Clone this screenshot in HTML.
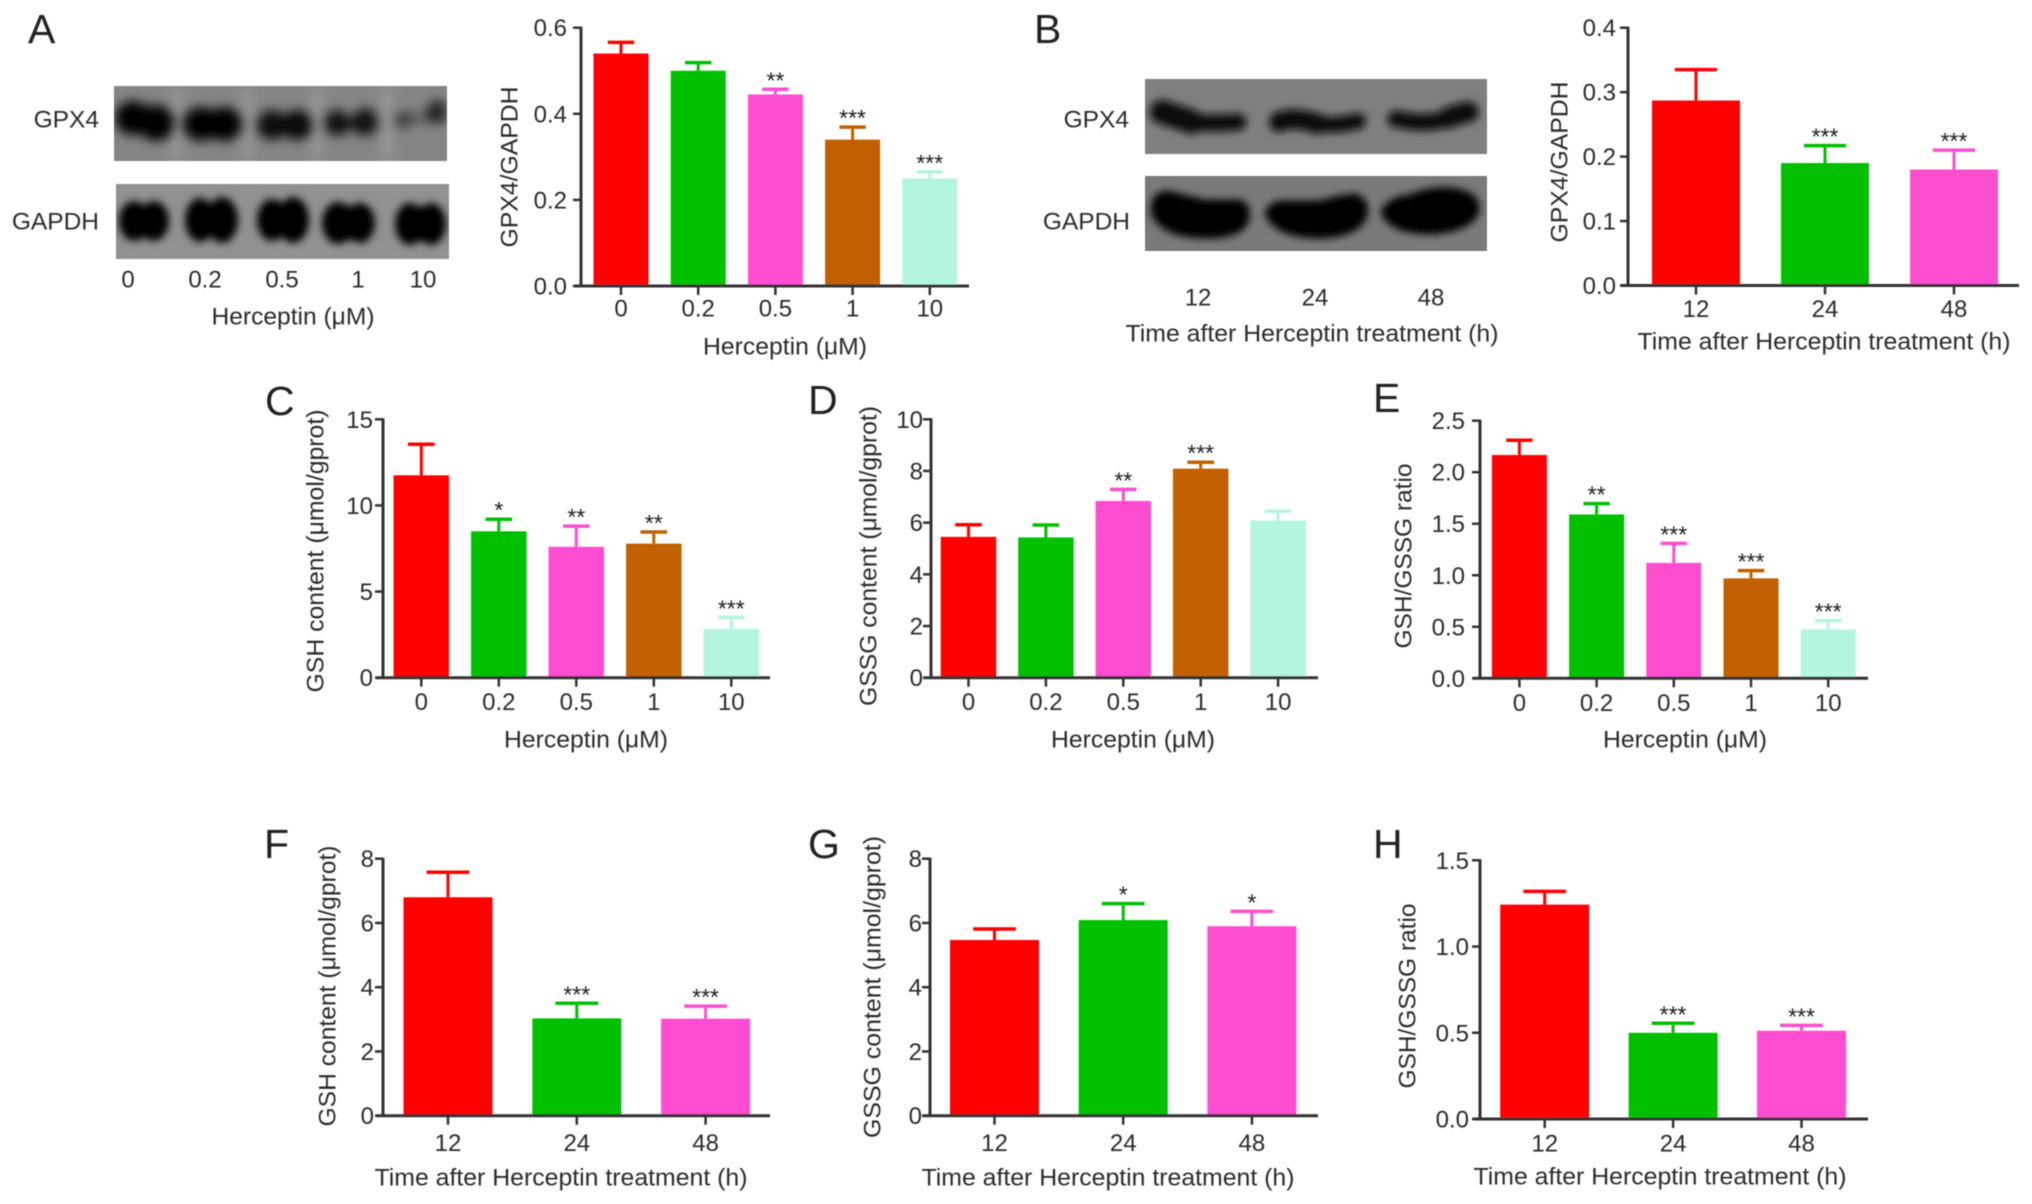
<!DOCTYPE html>
<html lang="en">
<head>
<meta charset="utf-8">
<title>Herceptin GPX4 and GSH/GSSG figure</title>
<style>
  html, body { margin: 0; padding: 0; background: #fff; }
  svg { display: block; }
  text { font-family: "Liberation Sans", "DejaVu Sans", sans-serif; fill: #2b2b2b; }
  .tick { font-size: 24px; }
  .blot-label { font-size: 24.5px; }
  .title { font-size: 24px; }
  .letter { font-size: 41px; fill: #222; }
  .star { font-size: 23px; fill: #1c1c1c; text-anchor: middle; }
</style>
</head>
<body>
<svg id="figure" xmlns="http://www.w3.org/2000/svg" width="2032" height="1204" viewBox="0 0 2032 1204">
  <defs>
    <filter id="soft" x="-2%" y="-2%" width="104%" height="104%"><feGaussianBlur stdDeviation="0.55"/></filter>
    <filter id="band-a" filterUnits="userSpaceOnUse" x="90" y="60" width="1420" height="220"><feGaussianBlur stdDeviation="5.5"/></filter>
    <filter id="band-b" filterUnits="userSpaceOnUse" x="90" y="60" width="1420" height="220"><feGaussianBlur stdDeviation="4"/></filter>
    <filter id="streak" filterUnits="userSpaceOnUse" x="90" y="60" width="400" height="130"><feGaussianBlur stdDeviation="6"/></filter>
    <clipPath id="clip-a1"><rect x="114" y="86" width="333" height="75"/></clipPath>
    <clipPath id="clip-a2"><rect x="116" y="184" width="333" height="75"/></clipPath>
    <clipPath id="clip-b1"><rect x="1145" y="79" width="342" height="75"/></clipPath>
    <clipPath id="clip-b2"><rect x="1145" y="176" width="342" height="75"/></clipPath>
  </defs>
  <g id="root" filter="url(#soft)">
    <text class="letter" x="28" y="43">A</text>
    <text class="letter" x="1034" y="43">B</text>
    <text class="letter" x="265" y="415">C</text>
    <text class="letter" x="808" y="414">D</text>
    <text class="letter" x="1373" y="412">E</text>
    <text class="letter" x="264" y="858">F</text>
    <text class="letter" x="808" y="858">G</text>
    <text class="letter" x="1373" y="858">H</text>

    <g clip-path="url(#clip-a1)">
      <rect x="114" y="86" width="333" height="75" fill="#858585"/>
      <g filter="url(#streak)" fill="#979797">
        <rect x="172" y="86" width="10" height="75"/>
        <rect x="242" y="86" width="10" height="75"/>
        <rect x="312" y="86" width="10" height="75"/>
        <rect x="381" y="86" width="12" height="75"/>
      </g>
      <g filter="url(#band-a)" fill="#000">
        <ellipse cx="133" cy="118" rx="18" ry="17"/>
        <ellipse cx="156" cy="123" rx="18" ry="18"/>
        <ellipse cx="201" cy="124" rx="18" ry="17"/>
        <ellipse cx="224" cy="124" rx="18" ry="17"/>
        <ellipse cx="272" cy="125" rx="15" ry="15" opacity="0.9"/>
        <ellipse cx="297" cy="125" rx="15" ry="15" opacity="0.95"/>
        <ellipse cx="337" cy="123" rx="13" ry="13" opacity="0.85"/>
        <ellipse cx="365" cy="122" rx="13" ry="14" opacity="0.85"/>
        <ellipse cx="351" cy="124" rx="14" ry="7" opacity="0.45"/>
        <ellipse cx="403" cy="120" rx="9" ry="9" opacity="0.5"/>
        <ellipse cx="437" cy="112" rx="10" ry="12" opacity="0.75"/>
        <ellipse cx="420" cy="118" rx="14" ry="5" opacity="0.35"/>
      </g>
    </g>
    <g clip-path="url(#clip-a2)">
      <rect x="116" y="184" width="333" height="75" fill="#919191"/>
      <g filter="url(#band-b)" fill="#000">
        <ellipse cx="134" cy="221" rx="15" ry="20"/>
        <ellipse cx="154" cy="221" rx="15" ry="20"/>
        <rect x="132" y="205" width="24" height="33"/>
        <ellipse cx="200" cy="220" rx="15" ry="22"/>
        <ellipse cx="222" cy="220" rx="16" ry="23"/>
        <rect x="198" y="205" width="26" height="32"/>
        <ellipse cx="272" cy="220" rx="15" ry="21"/>
        <ellipse cx="293" cy="220" rx="16" ry="23"/>
        <rect x="270" y="205" width="25" height="32"/>
        <ellipse cx="338" cy="223" rx="16" ry="21"/>
        <ellipse cx="360" cy="223" rx="15" ry="20"/>
        <rect x="336" y="206" width="26" height="34"/>
        <ellipse cx="410" cy="224" rx="15" ry="21"/>
        <ellipse cx="431" cy="224" rx="15" ry="21"/>
        <rect x="408" y="207" width="25" height="34"/>
      </g>
    </g>
    <g clip-path="url(#clip-b1)">
      <rect x="1145" y="79" width="342" height="75" fill="#7f7f7f"/>
      <g filter="url(#band-b)" fill="none" stroke="#080808" stroke-linecap="round">
        <path stroke-width="24" d="M1162 112 Q1178 117 1192 122"/>
        <path stroke-width="17" d="M1190 122 Q1215 124 1238 122"/>
        <path stroke-width="20" d="M1279 122 Q1295 116 1318 124"/>
        <path stroke-width="16" d="M1318 124 Q1340 126 1358 121"/>
        <path stroke-width="17" d="M1396 119 Q1428 126 1448 118"/>
        <path stroke-width="21" d="M1448 118 Q1458 114 1468 112"/>
      </g>
    </g>
    <g clip-path="url(#clip-b2)">
      <rect x="1145" y="176" width="342" height="75" fill="#7a7a7a"/>
      <g filter="url(#band-b)" fill="#000" stroke="#000" stroke-width="3">
        <path d="M1153 215 Q1149 193 1168 192 Q1190 198 1205 201 L1240 201 Q1250 205 1248 218 Q1245 236 1210 237 Q1165 238 1153 215Z"/>
        <path d="M1266 213 Q1270 202 1285 202 L1320 202 Q1340 196 1355 195 Q1369 200 1366 215 Q1360 236 1320 237 Q1275 237 1266 213Z"/>
        <path d="M1382 212 Q1388 198 1410 196 Q1430 187 1450 189 Q1481 192 1478 212 Q1470 231 1430 233 Q1390 233 1382 212Z"/>
      </g>
    </g>

    <text class="blot-label" x="99" y="120" text-anchor="end" dominant-baseline="central">GPX4</text>
    <text class="blot-label" x="99" y="222" text-anchor="end" dominant-baseline="central">GAPDH</text>
    <text class="blot-label" x="1129" y="120" text-anchor="end" dominant-baseline="central">GPX4</text>
    <text class="blot-label" x="1130" y="222" text-anchor="end" dominant-baseline="central">GAPDH</text>

    <g>
      <text class="tick" x="128" y="280" text-anchor="middle" dominant-baseline="central">0</text>
      <text class="tick" x="205" y="280" text-anchor="middle" dominant-baseline="central">0.2</text>
      <text class="tick" x="282" y="280" text-anchor="middle" dominant-baseline="central">0.5</text>
      <text class="tick" x="358" y="280" text-anchor="middle" dominant-baseline="central">1</text>
      <text class="tick" x="423" y="280" text-anchor="middle" dominant-baseline="central">10</text>
    </g>
    <text class="title" x="293" y="317" text-anchor="middle" dominant-baseline="central" textLength="163" lengthAdjust="spacingAndGlyphs">Herceptin (μM)</text>
    <g>
      <text class="tick" x="1198" y="298" text-anchor="middle" dominant-baseline="central">12</text>
      <text class="tick" x="1315" y="298" text-anchor="middle" dominant-baseline="central">24</text>
      <text class="tick" x="1431" y="298" text-anchor="middle" dominant-baseline="central">48</text>
    </g>
    <text class="title" x="1312" y="334" text-anchor="middle" dominant-baseline="central" textLength="373" lengthAdjust="spacingAndGlyphs">Time after Herceptin treatment (h)</text>

    <text class="title" x="785" y="347" text-anchor="middle" dominant-baseline="central" textLength="164" lengthAdjust="spacingAndGlyphs">Herceptin (μM)</text>
    <text class="title" x="1824" y="342" text-anchor="middle" dominant-baseline="central" textLength="373" lengthAdjust="spacingAndGlyphs">Time after Herceptin treatment (h)</text>
    <text class="title" x="586" y="740" text-anchor="middle" dominant-baseline="central" textLength="164" lengthAdjust="spacingAndGlyphs">Herceptin (μM)</text>
    <text class="title" x="1133" y="740" text-anchor="middle" dominant-baseline="central" textLength="164" lengthAdjust="spacingAndGlyphs">Herceptin (μM)</text>
    <text class="title" x="1685" y="740" text-anchor="middle" dominant-baseline="central" textLength="164" lengthAdjust="spacingAndGlyphs">Herceptin (μM)</text>
    <text class="title" x="561" y="1178" text-anchor="middle" dominant-baseline="central" textLength="373" lengthAdjust="spacingAndGlyphs">Time after Herceptin treatment (h)</text>
    <text class="title" x="1108" y="1178" text-anchor="middle" dominant-baseline="central" textLength="373" lengthAdjust="spacingAndGlyphs">Time after Herceptin treatment (h)</text>
    <text class="title" x="1660" y="1177" text-anchor="middle" dominant-baseline="central" textLength="373" lengthAdjust="spacingAndGlyphs">Time after Herceptin treatment (h)</text>

    <text class="title" transform="translate(510 167) rotate(-90)" text-anchor="middle" dominant-baseline="central" textLength="161" lengthAdjust="spacingAndGlyphs">GPX4/GAPDH</text>
    <text class="title" transform="translate(1560 162) rotate(-90)" text-anchor="middle" dominant-baseline="central" textLength="161" lengthAdjust="spacingAndGlyphs">GPX4/GAPDH</text>
    <text class="title" transform="translate(316 551) rotate(-90)" text-anchor="middle" dominant-baseline="central" textLength="283" lengthAdjust="spacingAndGlyphs">GSH content (μmol/gprot)</text>
    <text class="title" transform="translate(869 556) rotate(-90)" text-anchor="middle" dominant-baseline="central" textLength="300" lengthAdjust="spacingAndGlyphs">GSSG content (μmol/gprot)</text>
    <text class="title" transform="translate(1404 556) rotate(-90)" text-anchor="middle" dominant-baseline="central" textLength="185" lengthAdjust="spacingAndGlyphs">GSH/GSSG ratio</text>
    <text class="title" transform="translate(328 986) rotate(-90)" text-anchor="middle" dominant-baseline="central" textLength="281" lengthAdjust="spacingAndGlyphs">GSH content (μmol/gprot)</text>
    <text class="title" transform="translate(873 987) rotate(-90)" text-anchor="middle" dominant-baseline="central" textLength="302" lengthAdjust="spacingAndGlyphs">GSSG content (μmol/gprot)</text>
    <text class="title" transform="translate(1408 996) rotate(-90)" text-anchor="middle" dominant-baseline="central" textLength="185" lengthAdjust="spacingAndGlyphs">GSH/GSSG ratio</text>
  </g>
</svg>
<script>
// ---- Data ----
const doseCategories = ['0', '0.2', '0.5', '1', '10'];
const timeCategories = ['12', '24', '48'];

const panelAValues = [0.54, 0.50, 0.445, 0.34, 0.25];
const panelAErrorTops = [0.566, 0.519, 0.457, 0.369, 0.265];
const panelAStars = ['', '', '**', '***', '***'];
const panelATicks = [0, 0.2, 0.4, 0.6];
const panelATickLabels = ['0.0', '0.2', '0.4', '0.6'];

const panelBValues = [0.287, 0.19, 0.18];
const panelBErrorTops = [0.335, 0.217, 0.21];
const panelBStars = ['', '***', '***'];
const panelBTicks = [0, 0.1, 0.2, 0.3, 0.4];
const panelBTickLabels = ['0.0', '0.1', '0.2', '0.3', '0.4'];

const panelCValues = [11.75, 8.5, 7.6, 7.78, 2.83];
const panelCErrorTops = [13.55, 9.2, 8.8, 8.46, 3.5];
const panelCStars = ['', '*', '**', '**', '***'];
const panelCTicks = [0, 5, 10, 15];
const panelCTickLabels = ['0', '5', '10', '15'];

const panelDValues = [5.45, 5.43, 6.84, 8.09, 6.08];
const panelDErrorTops = [5.92, 5.91, 7.29, 8.34, 6.44];
const panelDStars = ['', '', '**', '***', ''];
const panelDTicks = [0, 2, 4, 6, 8, 10];
const panelDTickLabels = ['0', '2', '4', '6', '8', '10'];

const panelEValues = [2.167, 1.59, 1.12, 0.97, 0.475];
const panelEErrorTops = [2.31, 1.695, 1.31, 1.045, 0.56];
const panelEStars = ['', '**', '***', '***', '***'];
const panelETicks = [0, 0.5, 1, 1.5, 2, 2.5];
const panelETickLabels = ['0.0', '0.5', '1.0', '1.5', '2.0', '2.5'];

const panelFValues = [6.8, 3.03, 3.02];
const panelFErrorTops = [7.58, 3.5, 3.41];
const panelFStars = ['', '***', '***'];
const panelFTicks = [0, 2, 4, 6, 8];
const panelFTickLabels = ['0', '2', '4', '6', '8'];

const panelGValues = [5.47, 6.09, 5.9];
const panelGErrorTops = [5.81, 6.6, 6.36];
const panelGStars = ['', '*', '*'];
const panelGTicks = [0, 2, 4, 6, 8];
const panelGTickLabels = ['0', '2', '4', '6', '8'];

const panelHValues = [1.243, 0.5, 0.512];
const panelHErrorTops = [1.32, 0.555, 0.543];
const panelHStars = ['', '***', '***'];
const panelHTicks = [0, 0.5, 1, 1.5];
const panelHTickLabels = ['0.0', '0.5', '1.0', '1.5'];

// ---- Styles and frame geometry ----
const barColors = ['#ff0000', '#00c000', '#ff4dd2', '#c06000', '#b3f5e0'];
const SVGNS = 'http://www.w3.org/2000/svg';
const root = document.getElementById('root');

function make(parent, tag, attrs, content) {
  const node = document.createElementNS(SVGNS, tag);
  for (const key in attrs) node.setAttribute(key, attrs[key]);
  if (content !== undefined) node.textContent = content;
  parent.appendChild(node);
  return node;
}

function drawChart(frame, categories, values, errorTops, stars, ticks, tickLabels) {
  const yMax = ticks[ticks.length - 1];
  const yScale = function (v) { return frame.y0 - (v / yMax) * (frame.y0 - frame.yTop); };
  const xScale = function (i) { return frame.first + i * frame.step; };
  const axisColor = '#333';
  const group = make(root, 'g', {});
  
  

  const capWidth = frame.barW * 0.48;
  values.forEach(function (value, i) {
    const color = barColors[i];
    const cx = xScale(i);
    const top = yScale(errorTops[i]);
    const barTop = yScale(value);

    const stem = make(group, 'line', { x1: cx, x2: cx, y1: top, y2: barTop, stroke: color, 'stroke-width': 3 });
    
    

    const cap = make(group, 'line', { x1: cx - capWidth / 2, x2: cx + capWidth / 2, y1: top, y2: top, stroke: color, 'stroke-width': 3.5 });
    
    

    const bar = make(group, 'rect', { x: cx - frame.barW / 2, y: barTop, width: frame.barW, height: yScale(0) - barTop, fill: color });
    
    

    if (stars[i]) {
      const star = make(group, 'text', { class: 'star', x: cx, y: top - 1 }, stars[i]);
      
      
    }

    const xTick = make(group, 'line', { x1: cx, x2: cx, y1: frame.y0, y2: frame.y0 + 9, stroke: axisColor, 'stroke-width': 2.5 });
    
    

    const xLabel = make(group, 'text', { class: 'tick', x: cx, y: frame.y0 + frame.xLabelGap, 'text-anchor': 'middle', 'dominant-baseline': 'central' }, categories[i]);
    
    
  });

  const xAxis = make(group, 'line', { x1: frame.axisX - 7, x2: frame.right, y1: frame.y0, y2: frame.y0, stroke: axisColor, 'stroke-width': 3 });
  
  

  const yAxis = make(group, 'line', { x1: frame.axisX, x2: frame.axisX, y1: frame.yTop - 1, y2: frame.y0 + 1, stroke: axisColor, 'stroke-width': 3 });
  
  

  ticks.forEach(function (tick, i) {
    const y = yScale(tick);
    const yTick = make(group, 'line', { x1: frame.axisX - 8, x2: frame.axisX, y1: y, y2: y, stroke: axisColor, 'stroke-width': 2.5 });
    
    

    const yLabel = make(group, 'text', { class: 'tick', x: frame.axisX - frame.yLabelGap, y: y + 1, 'text-anchor': 'end', 'dominant-baseline': 'central' }, tickLabels[i]);
    
    
  });
}

drawChart({ id: 'a', first: 621, step: 77.2, barW: 55, axisX: 581, right: 969, y0: 286, yTop: 27.7, xLabelGap: 23, yLabelGap: 14 },
  doseCategories, panelAValues, panelAErrorTops, panelAStars, panelATicks, panelATickLabels);
drawChart({ id: 'b', first: 1696, step: 129, barW: 88, axisX: 1628, right: 2019, y0: 285.5, yTop: 27.7, xLabelGap: 24, yLabelGap: 12 },
  timeCategories, panelBValues, panelBErrorTops, panelBStars, panelBTicks, panelBTickLabels);
drawChart({ id: 'c', first: 421.3, step: 77.5, barW: 55.5, axisX: 383, right: 770, y0: 677.7, yTop: 419.3, xLabelGap: 25, yLabelGap: 10 },
  doseCategories, panelCValues, panelCErrorTops, panelCStars, panelCTicks, panelCTickLabels);
drawChart({ id: 'd', first: 968.5, step: 77.4, barW: 55.5, axisX: 931, right: 1318, y0: 677.7, yTop: 419.3, xLabelGap: 25, yLabelGap: 8 },
  doseCategories, panelDValues, panelDErrorTops, panelDStars, panelDTicks, panelDTickLabels);
drawChart({ id: 'e', first: 1519.4, step: 77.2, barW: 55, axisX: 1480, right: 1868, y0: 678.3, yTop: 420.7, xLabelGap: 25, yLabelGap: 15 },
  doseCategories, panelEValues, panelEErrorTops, panelEStars, panelETicks, panelETickLabels);
drawChart({ id: 'f', first: 448, step: 128.8, barW: 89, axisX: 383, right: 770, y0: 1115.7, yTop: 858.7, xLabelGap: 28, yLabelGap: 9 },
  timeCategories, panelFValues, panelFErrorTops, panelFStars, panelFTicks, panelFTickLabels);
drawChart({ id: 'g', first: 994.5, step: 128.7, barW: 89, axisX: 930, right: 1318, y0: 1115.7, yTop: 858.7, xLabelGap: 28, yLabelGap: 8 },
  timeCategories, panelGValues, panelGErrorTops, panelGStars, panelGTicks, panelGTickLabels);
drawChart({ id: 'h', first: 1544.7, step: 128.4, barW: 89, axisX: 1480, right: 1868, y0: 1119, yTop: 860.3, xLabelGap: 25, yLabelGap: 11 },
  timeCategories, panelHValues, panelHErrorTops, panelHStars, panelHTicks, panelHTickLabels);
</script>
</body>
</html>
